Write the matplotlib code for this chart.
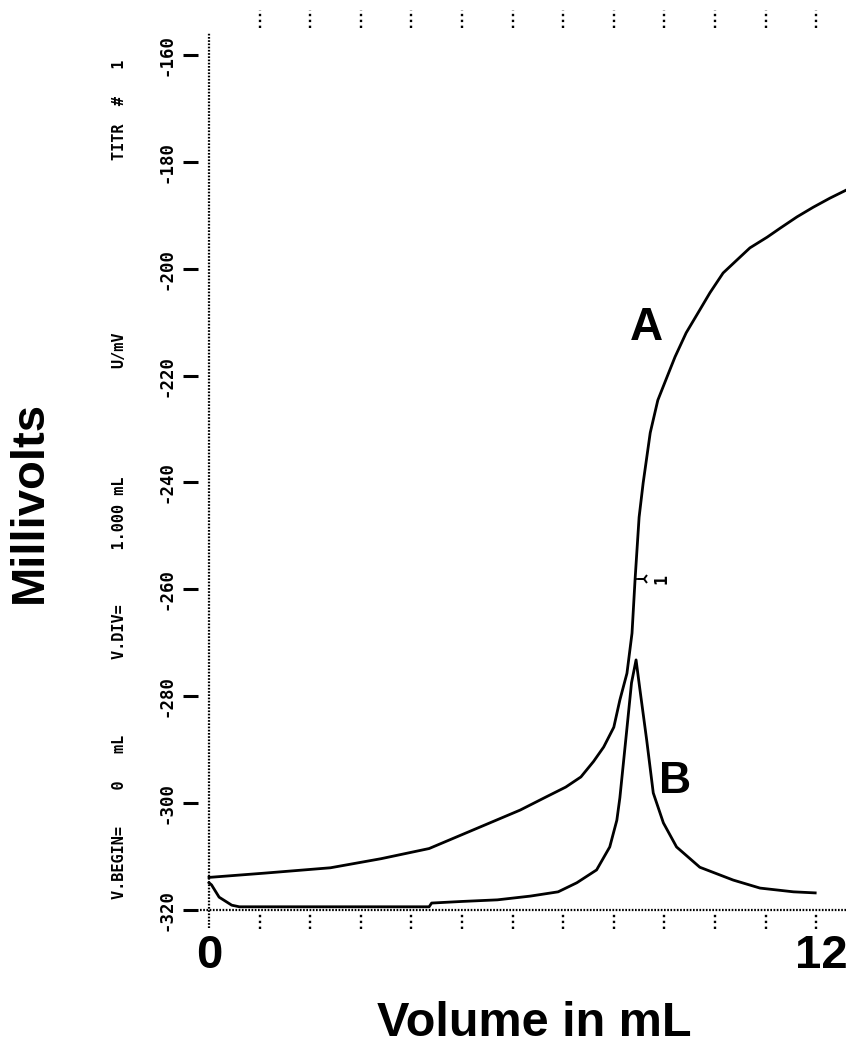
import matplotlib.pyplot as plt
import numpy as np

# Titration curve (A) and its first derivative (B), volume in mL vs mV
vol_a = [0.0, 1.1, 2.4, 3.4, 4.35, 5.35, 6.15, 6.65, 7.05, 7.35, 7.6, 7.8, 8.0,
         8.12, 8.26, 8.36, 8.42, 8.5, 8.58, 8.72, 8.87, 9.05, 9.21, 9.43, 9.7,
         9.9, 10.16, 10.43, 10.69, 11.03, 11.29, 11.62, 11.94, 12.27, 12.59, 12.8]
mv_a = [-313.9, -313.1, -312.1, -310.4, -308.5, -304.5, -301.3, -298.9, -297.0,
        -295.1, -292.2, -289.5, -285.8, -280.7, -275.7, -268.2, -258.2, -246.5,
        -240.1, -230.7, -224.6, -220.3, -216.5, -212.0, -207.7, -204.5, -200.8,
        -198.4, -196.1, -194.1, -192.4, -190.3, -188.5, -186.8, -185.3, -184.4]

vol_b = [0.0, 0.05, 0.2, 0.45, 0.6, 4.35, 4.4, 5.0, 5.7, 6.35, 6.9, 7.27, 7.66,
         7.92, 8.06, 8.12, 8.25, 8.35, 8.44, 8.51, 8.65, 8.78, 8.98, 9.24, 9.7,
         10.36, 10.89, 11.55, 11.98]
mv_b = [-314.9, -315.3, -317.6, -319.1, -319.4, -319.4, -318.7, -318.4, -318.1,
        -317.4, -316.6, -314.9, -312.5, -308.2, -303.2, -299.0, -286.9, -277.5,
        -273.2, -278.3, -288.2, -298.1, -303.7, -308.2, -312.0, -314.4, -315.9,
        -316.6, -316.8]

ep_vol, ep_mv = 8.42, -258.0   # endpoint marker "1"

y_ticks = [-160, -180, -200, -220, -240, -260, -280, -300, -320]
x_ticks = list(range(1, 13))

header = ["TITR  #   1", "U/mV", "V.DIV=      1.000 mL", "V.BEGIN=    0   mL"]
header_py = [109.5, 350, 568, 817]

# pixel mapping of the printout
W, H = 846, 1044
PX0, PXS = 209, 50.6      # px at 0 mL, px per mL
PY0, PYS = 910, 5.344     # px at -320 mV, px per mV
Y0 = -320


def dx(px):
    return (px - PX0) / PXS


def dy(py):
    return Y0 + (PY0 - py) / PYS


fig = plt.figure(figsize=(W / 100, H / 100), dpi=100)
ax = fig.add_axes([0, 0, 1, 1])
ax.set_xlim(dx(0), dx(W))
ax.set_ylim(dy(H), dy(0))
ax.axis('off')

mono = dict(family='DejaVu Sans Mono', weight='bold', rotation=90,
            ha='center', va='center')
big = dict(family='Liberation Sans', weight='bold', color='black')

# dotted frame
dot = (0, (0.75, 0.7))
ax.plot([0, 0], [dy(928), dy(33)], color='k', lw=1.6, linestyle=dot,
        dash_capstyle='butt')
ax.plot([dx(200), dx(W)], [Y0, Y0], color='k', lw=1.6, linestyle=dot,
        dash_capstyle='butt')
ax.vlines(x_ticks, dy(28), dy(10), colors='k', lw=1.7, linestyles=[(0, (1, 1.5))])
ax.vlines(x_ticks, dy(929), dy(914), colors='k', lw=1.7, linestyles=[(0, (1, 1.5))])

# y ticks + labels
ax.hlines(y_ticks, dx(183), dx(198), colors='k', lw=2.2)
for v in y_ticks:
    ax.text(dx(166), v, str(v), fontsize=12.5, **mono)

# header column
for txt, py in zip(header, header_py):
    ax.text(dx(119), dy(py), txt, fontsize=11, **mono)

# curves
ax.plot(vol_a, mv_a, color='k', lw=2, solid_joinstyle='round')
ax.plot(vol_b, mv_b, color='k', lw=2, solid_joinstyle='round')

# endpoint marker
ax.plot([ep_vol, ep_vol + 0.15], [ep_mv, ep_mv], color='k', lw=1.3)
ax.plot(ep_vol + 0.18, ep_mv, marker='3', ms=8, mew=1.4, color='k')
ax.text(ep_vol + 0.52, ep_mv, '1', family='DejaVu Sans Mono', weight='bold',
        fontsize=12, rotation=90, ha='center', va='center')

# curve letters
ax.text(dx(646), dy(340), 'A', fontsize=33, ha='center', va='baseline', **big)
ax.text(dx(675), dy(793), 'B', fontsize=32, ha='center', va='baseline', **big)

# x labels
ax.text(0, dy(968), '0', fontsize=34, ha='center', va='baseline', **big)
ax.text(12.1, dy(968), '12', fontsize=34, ha='center', va='baseline', **big)

fig.text(534 / W, 1 - 1036 / H, 'Volume in mL', fontsize=35, ha='center',
         va='baseline', **big)
fig.text(30 / W, 1 - 502 / H, 'Millivolts', fontsize=34, rotation=90,
         ha='center', va='center', **big)

fig.savefig('out.png', dpi=100, facecolor='white')
